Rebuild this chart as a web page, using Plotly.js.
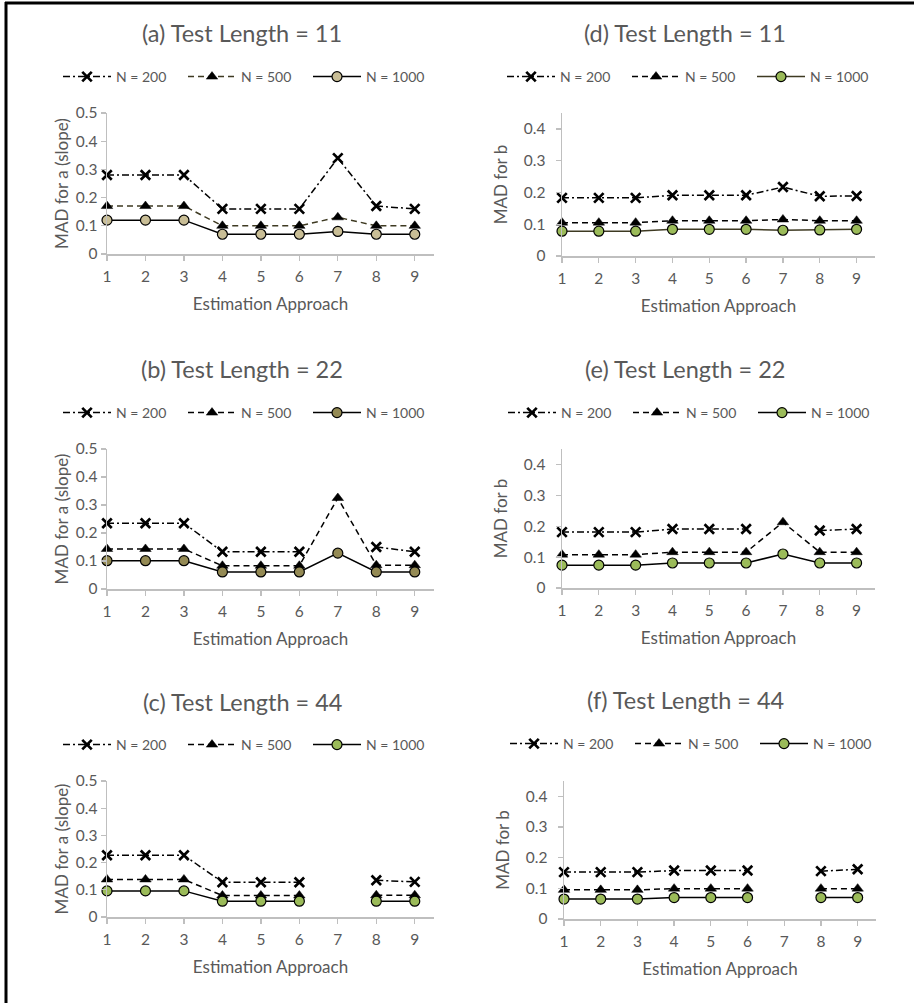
<!DOCTYPE html>
<html>
<head>
<meta charset="utf-8">
<script src="https://cdn.plot.ly/plotly-3.0.1.min.js"></script>
<style>html,body{margin:0;padding:0;background:#fff;}#chart{width:914px;height:1003px;}</style>
</head>
<body>
<div id="chart"></div>
<script>
// ---- data ----
var approaches = [1, 2, 3, 4, 5, 6, 7, 8, 9];
var seriesNames = ["N = 200", "N = 500", "N = 1000"];
var panelTitles = ["(a) Test Length = 11", "(b) Test Length = 22", "(c) Test Length = 44",
                   "(d) Test Length = 11", "(e) Test Length = 22", "(f) Test Length = 44"];
var yTitleA = "MAD for a (slope)";
var yTitleB = "MAD for b";
var xTitle = "Estimation Approach";

// MAD for a (slope)
var a_N200  = [0.28, 0.28, 0.28, 0.16, 0.16, 0.16, 0.34, 0.17, 0.16];
var a_N500  = [0.17, 0.17, 0.17, 0.10, 0.10, 0.10, 0.13, 0.10, 0.10];
var a_N1000 = [0.12, 0.12, 0.12, 0.07, 0.07, 0.07, 0.08, 0.07, 0.07];

var b_N200  = [0.235, 0.235, 0.235, 0.133, 0.133, 0.133, null, 0.15, 0.133];
var b_N500  = [0.143, 0.143, 0.143, 0.083, 0.083, 0.083, 0.325, 0.085, 0.085];
var b_N1000 = [0.101, 0.101, 0.101, 0.061, 0.061, 0.061, 0.128, 0.061, 0.061];

var c_N200  = [0.227, 0.227, 0.227, 0.128, 0.128, 0.128, null, 0.135, 0.129];
var c_N500  = [0.138, 0.138, 0.138, 0.079, 0.079, 0.079, null, 0.080, 0.080];
var c_N1000 = [0.096, 0.096, 0.096, 0.058, 0.058, 0.058, null, 0.058, 0.058];

// MAD for b
var d_N200  = [0.183, 0.183, 0.183, 0.191, 0.191, 0.191, 0.217, 0.188, 0.189];
var d_N500  = [0.105, 0.105, 0.105, 0.111, 0.111, 0.111, 0.115, 0.111, 0.111];
var d_N1000 = [0.078, 0.078, 0.078, 0.084, 0.084, 0.084, 0.081, 0.082, 0.084];

var e_N200  = [0.181, 0.181, 0.181, 0.191, 0.191, 0.191, null, 0.186, 0.191];
var e_N500  = [0.108, 0.108, 0.108, 0.116, 0.116, 0.116, 0.213, 0.116, 0.116];
var e_N1000 = [0.074, 0.074, 0.074, 0.081, 0.081, 0.081, 0.110, 0.081, 0.081];

var f_N200  = [0.153, 0.153, 0.153, 0.158, 0.158, 0.158, null, 0.156, 0.162];
var f_N500  = [0.095, 0.095, 0.095, 0.099, 0.099, 0.099, null, 0.099, 0.099];
var f_N1000 = [0.065, 0.065, 0.065, 0.070, 0.070, 0.070, null, 0.070, 0.070];

// ---- styling ----
var W = 914, H = 1003;
var FONT = "Lato, 'Liberation Sans', sans-serif";
var GRAY = "#595959";
var AXIS = "#BFBFBF";
function px(x) { return x / W; }
function py(y) { return 1 - y / H; }

var panels = [
  {d: [a_N200, a_N500, a_N1000], fill: "#C9BE96", c500: "#3E3A22", c1000: "#000000", yr: [0, 0.5], yt: yTitleA,
   xd: [107, 434], yd: [254, 113], titleY: 33, titleX: 242, legY: 77, legX: 58, tls: 5.5, yts: 3},
  {d: [b_N200, b_N500, b_N1000], fill: "#948A54", c500: "#000000", c1000: "#000000", yr: [0, 0.5], yt: yTitleA,
   xd: [107, 434], yd: [589, 449], titleY: 369, titleX: 242, legY: 413, legX: 58, tls: 5.5, yts: 3},
  {d: [c_N200, c_N500, c_N1000], fill: "#9BBB59", c500: "#000000", c1000: "#000000", yr: [0, 0.5], yt: yTitleA,
   xd: [107, 434], yd: [917, 781], titleY: 702, titleX: 242, legY: 745, legX: 58, tls: 5.5, yts: 3},
  {d: [d_N200, d_N500, d_N1000], fill: "#9BBB59", c500: "#000000", c1000: "#3E3A22", yr: [0, 0.45], yt: yTitleB,
   xd: [562, 875], yd: [256, 113], titleY: 33, titleX: 685, legY: 77, legX: 502, tls: 7, yts: 12},
  {d: [e_N200, e_N500, e_N1000], fill: "#9BBB59", c500: "#000000", c1000: "#000000", yr: [0, 0.45], yt: yTitleB,
   xd: [562, 875], yd: [588, 449], titleY: 369, titleX: 685, legY: 413, legX: 503, tls: 7, yts: 12},
  {d: [f_N200, f_N500, f_N1000], fill: "#9BBB59", c500: "#000000", c1000: "#000000", yr: [0, 0.45], yt: yTitleB,
   xd: [564, 876], yd: [919, 781], titleY: 700, titleX: 685, legY: 744, legX: 505, tls: 7, yts: 12}
];

var traces = [];
var layout = {
  width: W, height: H,
  margin: {l: 0, r: 0, t: 0, b: 0},
  paper_bgcolor: "#ffffff", plot_bgcolor: "#ffffff",
  font: {family: FONT, color: GRAY},
  annotations: [],
  shapes: [
    {type: "line", xref: "paper", yref: "paper", x0: px(6), x1: px(6), y0: py(1003), y1: py(2), line: {color: "#000", width: 3}},
    {type: "line", xref: "paper", yref: "paper", x0: px(5), x1: px(914), y0: py(3), y1: py(3), line: {color: "#000", width: 3}}
  ]
};

panels.forEach(function (p, i) {
  var n = i + 1;
  var xa = "x" + (n === 1 ? "" : n), ya = "y" + (n === 1 ? "" : n);
  var leg = "legend" + (n === 1 ? "" : n);
  var styles = [
    {line: {color: "#000", width: 1.5, dash: "7px,3px,2px,3px"},
     marker: {symbol: "x-thin", size: 9.5, color: "#000", line: {color: "#000", width: 2.7}}},
    {line: {color: p.c500, width: 1.5, dash: "6px,4px"},
     marker: {symbol: "triangle-up", size: 10, color: "#000", line: {color: "#000", width: 0.5}}},
    {line: {color: p.c1000, width: 1.5},
     marker: {symbol: "circle", size: 10, color: p.fill, line: {color: "#000", width: 1.2}}}
  ];
  p.d.forEach(function (vals, k) {
    traces.push({
      type: "scatter", mode: "lines+markers",
      x: approaches, y: vals, name: seriesNames[k],
      xaxis: xa, yaxis: ya, legend: leg,
      line: styles[k].line, marker: styles[k].marker,
      connectgaps: false, cliponaxis: false, hoverinfo: "x+y+name"
    });
  });
  layout["xaxis" + (n === 1 ? "" : n)] = {
    domain: [px(p.xd[0]), px(p.xd[1])], anchor: ya, range: [1, 9.5],
    tickmode: "array", tickvals: approaches, ticktext: approaches.map(String),
    showline: true, linecolor: AXIS, linewidth: 1.5, showgrid: false, zeroline: false,
    ticks: "outside", ticklen: 5, tickcolor: AXIS, tickwidth: 1.3,
    tickfont: {size: 15.5, color: GRAY, family: FONT}, ticklabelstandoff: 3,
    title: {text: xTitle, font: {size: 17, color: GRAY, family: FONT}, standoff: 14},
    fixedrange: true
  };
  layout["yaxis" + (n === 1 ? "" : n)] = {
    domain: [py(p.yd[0]), py(p.yd[1])], anchor: xa, range: p.yr,
    tickmode: "linear", tick0: 0, dtick: 0.1,
    showline: true, linecolor: AXIS, linewidth: 1.5, showgrid: false, zeroline: false,
    ticks: "outside", ticklen: 5, tickcolor: AXIS, tickwidth: 1.3,
    tickfont: {size: 15.5, color: GRAY, family: FONT}, ticklabelstandoff: p.tls,
    title: {text: p.yt, font: {size: 17, color: GRAY, family: FONT}, standoff: p.yts},
    fixedrange: true
  };
  layout[leg] = {
    orientation: "h", x: px(p.legX), xanchor: "left", y: py(p.legY), yanchor: "middle",
    font: {size: 14, color: GRAY, family: FONT}, bgcolor: "rgba(0,0,0,0)",
    itemwidth: 48, entrywidth: 62, traceorder: "normal"
  };
  layout.annotations.push({
    text: panelTitles[i], xref: "paper", yref: "paper", x: px(p.titleX), y: py(p.titleY),
    xanchor: "center", yanchor: "middle", showarrow: false,
    font: {size: 23.5, color: GRAY, family: FONT}
  });
});

Plotly.newPlot("chart", traces, layout, {staticPlot: true});
</script>
</body>
</html>
